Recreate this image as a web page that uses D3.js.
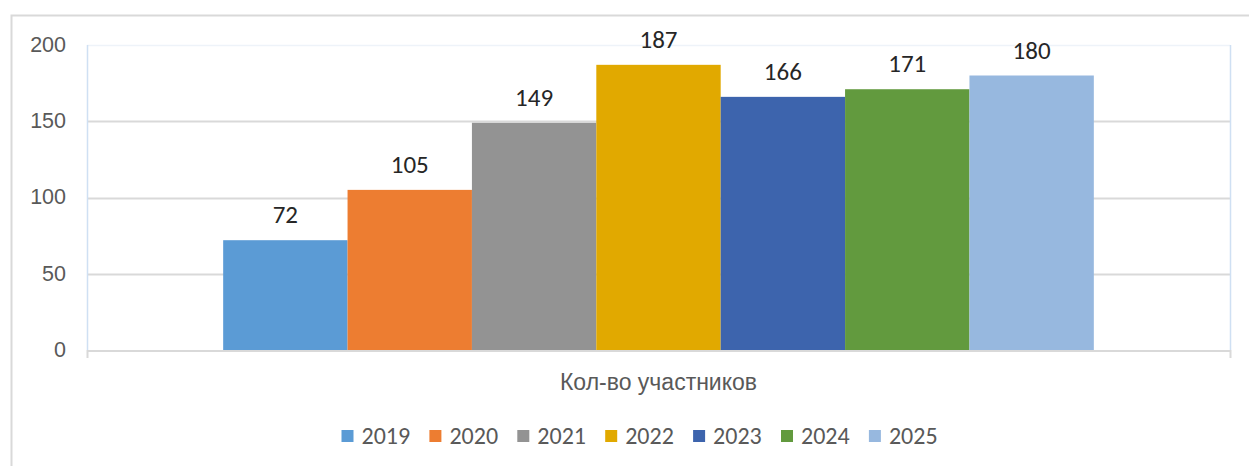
<!DOCTYPE html>
<html><head><meta charset="utf-8">
<script src="https://cdn.jsdelivr.net/npm/d3@7"></script>
<style>
html,body{margin:0;padding:0;background:#fff;}
svg{display:block;font-family:Carlito,Calibri,Lato,"Open Sans",sans-serif;}
</style></head>
<body>
<svg id="chart" width="1249" height="466"></svg>
<script>
const categories = ["Кол-во участников"];
const years = ["2019","2020","2021","2022","2023","2024","2025"];
const values = [72,105,149,187,166,171,180];
const colors = ["#5B9BD5","#ED7D31","#939393","#E1A900","#3D64AD","#629A3E","#97B8DF"];
const yTicks = [0,50,100,150,200];

const svg = d3.select("#chart");
const m = {left:87, right:1230, top:45, bottom:350};

// chart frame
svg.append("rect").attr("x",11.5).attr("y",15.5).attr("width",1300).attr("height",600)
  .attr("fill","none").attr("stroke","#d9d9d9").attr("stroke-width",2);

const y = d3.scaleLinear().domain([0,200]).range([m.bottom,m.top]);
const x0 = d3.scaleBand().domain(categories).range([m.left,m.right]).paddingInner(0).paddingOuter(0.1564);
const x1 = d3.scaleBand().domain(years).range([0,x0.bandwidth()]).padding(0);

// gridlines
svg.append("g").selectAll("line").data(yTicks.filter(d=>d>0)).join("line")
  .attr("x1",m.left).attr("x2",m.right).attr("y1",d=>Math.round(y(d))+0.5).attr("y2",d=>Math.round(y(d))+0.5)
  .attr("stroke",d=>d===200?"#eef3f9":"#d9d9d9").attr("stroke-width",d=>d===200?1.5:2);

// plot side lines
svg.append("line").attr("x1",m.left+0.5).attr("x2",m.left+0.5).attr("y1",m.top).attr("y2",m.bottom)
  .attr("stroke","#cfe0f3").attr("stroke-width",1.5);
svg.append("line").attr("x1",m.right+0.5).attr("x2",m.right+0.5).attr("y1",m.top).attr("y2",m.bottom)
  .attr("stroke","#cfe0f3").attr("stroke-width",1.5);

// y axis labels
const yAxis = d3.axisLeft(y).tickValues(yTicks).tickSize(0).tickPadding(0);
const ya = svg.append("g").attr("transform",`translate(${m.left-21},0)`).call(yAxis);
ya.select(".domain").remove();
ya.selectAll("text").attr("font-size",21.5).attr("fill","#595959").attr("dy","0.3em");

// bars
const g = svg.append("g").attr("transform",`translate(${x0(categories[0])},0)`);
g.selectAll("rect").data(values).join("rect")
  .attr("x",(d,i)=>x1(years[i])).attr("width",x1.bandwidth())
  .attr("y",d=>y(d)).attr("height",d=>y(0)-y(d))
  .attr("fill",(d,i)=>colors[i]);

// data labels
g.selectAll("text").data(values).join("text")
  .attr("x",(d,i)=>x1(years[i])+x1.bandwidth()/2).attr("y",d=>y(d)-17)
  .attr("text-anchor","middle").attr("font-size",25).attr("fill","#262626").text(d=>d);

// x axis
const xAxis = d3.axisBottom(x0).tickSize(0).tickPadding(0);
const xa = svg.append("g").attr("transform",`translate(0,${m.bottom})`).call(xAxis);
xa.select(".domain").remove();
xa.selectAll("text").attr("font-size",23).attr("fill","#595959").attr("dy",0).attr("y",40);
svg.append("line").attr("x1",m.left).attr("x2",m.right+1).attr("y1",m.bottom+1).attr("y2",m.bottom+1)
  .attr("stroke","#d9d9d9").attr("stroke-width",2);
svg.append("g").selectAll("line").data([m.left,m.right]).join("line")
  .attr("x1",d=>d+0.5).attr("x2",d=>d+0.5).attr("y1",m.bottom).attr("y2",m.bottom+8)
  .attr("stroke","#d9d9d9").attr("stroke-width",2);

// legend
const legStart = 341.5, legStep = 87.9, legY = 436;
const lg = svg.append("g").selectAll("g").data(years).join("g")
  .attr("transform",(d,i)=>`translate(${legStart+i*legStep},${legY})`);
lg.append("rect").attr("x",0).attr("y",-6).attr("width",12).attr("height",12).attr("fill",(d,i)=>colors[i]);
lg.append("text").attr("x",20).attr("y",7.5).attr("font-size",24).attr("fill","#595959").text(d=>d);
</script>
</body></html>
